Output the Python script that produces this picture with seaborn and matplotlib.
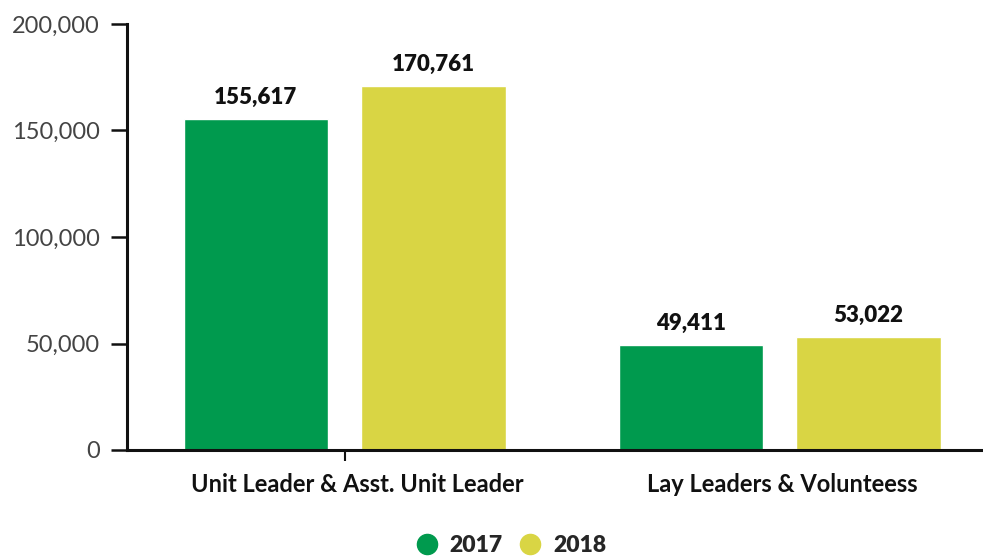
import matplotlib
matplotlib.use("Agg")
import matplotlib.pyplot as plt
from matplotlib.lines import Line2D
import seaborn as sns
import pandas as pd

categories = ["Unit Leader & Asst. Unit Leader", "Lay Leaders & Volunteess"]
years = ["2017", "2018"]
values_2017 = [155617, 49411]
values_2018 = [170761, 53022]
yticks = [0, 50000, 100000, 150000, 200000]
colors = {"2017": "#009A4E", "2018": "#D9D544"}

rows = []
for c, v in zip(categories, values_2017):
    rows.append({"cat": c, "year": "2017", "value": v})
for c, v in zip(categories, values_2018):
    rows.append({"cat": c, "year": "2018", "value": v})
df = pd.DataFrame(rows)

sns.set_style("white")
plt.rcParams["font.family"] = ["Lato", "DejaVu Sans"]

W, H = 983, 556
fig = plt.figure(figsize=(W / 100, H / 100), dpi=100)
ax = fig.add_axes([127 / W, (H - 450) / H, 1 - 127 / W, (450 - 24) / H])

sns.barplot(data=df, x="cat", y="value", hue="year", palette=colors,
            order=categories, hue_order=years, width=0.816, gap=0.186,
            ax=ax, legend=False, saturation=1, errorbar=None)

ax.set_xlim(-0.5, 1.467)
ax.set_ylim(0, 200000)
ax.set_yticks(yticks)
ax.set_yticklabels([f"{t:,}" for t in yticks], fontsize=17, color="#444444",
                   fontweight="normal")
ax.set_xlabel("")
ax.set_ylabel("")
ax.set_xticks([0])
ax.set_xticklabels([""])
label_offsets = [0.03, 0.005]
for i, c in enumerate(categories):
    ax.text(i + label_offsets[i], -0.08, c, transform=ax.get_xaxis_transform(),
            ha="center", va="center", fontsize=17, fontweight="bold", color="#111111")

for s in ["top", "right"]:
    ax.spines[s].set_visible(False)
for s in ["left", "bottom"]:
    ax.spines[s].set_color("#111111")
    ax.spines[s].set_linewidth(2.2)
ax.tick_params(axis="y", which="both", left=True, length=11.5, width=1.8,
               color="#111111", pad=8)
ax.tick_params(axis="x", which="both", bottom=True, length=8, width=1.5,
               color="#111111")

for cont in ax.containers:
    for p in cont:
        h = p.get_height()
        ax.annotate(f"{int(h):,}", (p.get_x() + p.get_width() / 2, h),
                    xytext=(0, 8), textcoords="offset points", ha="center",
                    va="bottom", fontsize=16, fontweight="heavy", color="#111111")

handles = [Line2D([0], [0], marker="o", linestyle="", markersize=14.5,
                  markerfacecolor=colors[y], markeredgecolor=colors[y], label=y)
           for y in years]
fig.legend(handles=handles, loc="center", bbox_to_anchor=(511 / W, (H - 546) / H),
           ncol=2, frameon=False, prop={"size": 16.5, "weight": "heavy"},
           handlelength=1.0, handletextpad=0.5, columnspacing=0.7)

fig.savefig("out.png", dpi=100)
